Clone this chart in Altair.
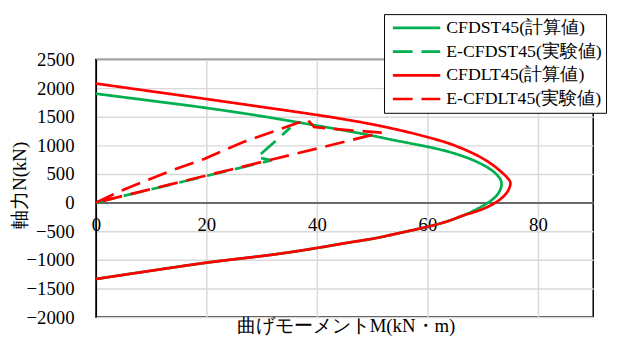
import altair as alt
import pandas as pd

# ---- data ----
names = ["CFDST45(計算値)", "E-CFDST45(実験値)", "CFDLT45(計算値)", "E-CFDLT45(実験値)"]
colors = ["#00B050", "#00B050", "#FF0000", "#FF0000"]

# shared tension branch (both calc curves)
neg_M = [66.6, 63.5, 60.0, 55.0, 50.5, 45.0, 39.8, 32.7, 20.0, 10.0, 0.0]
neg_N = [-220, -330, -422, -530, -623, -710, -796, -900, -1050, -1190, -1335]

green_calc_M = [0.0, 10.0, 20.0, 30.0, 40.0, 45.0, 50.0, 54.0, 58.0, 61.5, 64.5, 67.0, 69.0, 70.6, 71.9, 72.8, 73.3, 73.4, 73.1, 72.4, 71.0, 69.0] + neg_M
green_calc_N = [1903, 1780, 1654, 1510, 1345, 1260, 1170, 1090, 1015, 945, 870, 790, 710, 630, 545, 460, 385, 300, 210, 110, 0, -110] + neg_N

red_calc_M = [0.0, 10.0, 20.0, 30.0, 40.0, 45.0, 50.0, 55.0, 60.0, 64.0, 67.0, 69.5, 71.5, 73.2, 74.4, 75.0, 74.8, 74.0, 72.3, 70.3, 68.0] + neg_M
red_calc_N = [2080, 1945, 1810, 1672, 1532, 1455, 1368, 1265, 1145, 1030, 915, 800, 680, 550, 440, 356, 250, 130, 0, -100, -180] + neg_N

green_exp_M = [0.0, 16.6, 31.8, 29.2, 35.2]
green_exp_N = [0, 386, 740, 790, 1310]

red_exp_M = [0.0, 4.7, 13.6, 19.6, 26.7, 38.3, 39.5, 44.0, 51.7, 31.5, 0.0]
red_exp_N = [0, 213, 559, 761, 1060, 1452, 1320, 1280, 1222, 744, 0]

series_data = [
    (names[0], green_calc_M, green_calc_N, "catmull-rom"),
    (names[1], green_exp_M, green_exp_N, "linear"),
    (names[2], red_calc_M, red_calc_N, "catmull-rom"),
    (names[3], red_exp_M, red_exp_N, "linear"),
]

rows = []
for name, ms, ns, _ in series_data:
    for i, (m, n) in enumerate(zip(ms, ns)):
        rows.append({"M": m, "N": n, "series": name, "order": i})
df = pd.DataFrame(rows)

FONT = "Liberation Serif"
FS = 19
LFS = 18

legend = alt.Legend(
    title=None, orient="none", legendX=292, legendY=-46,
    symbolType="M-1,0H8.6", symbolSize=100, symbolStrokeWidth=2.75,
    labelFont=FONT, labelFontSize=LFS, labelColor="black", labelLimit=400,
    labelOffset=40, strokeColor="black", fillColor="white",
    padding=5, rowPadding=6,
)

enc = dict(
    x=alt.X("M:Q", scale=alt.Scale(domain=[0, 90], nice=False, zero=False),
            axis=alt.Axis(values=[0, 20, 40, 60, 80], format="d", offset=-116, ticks=False,
                          domainColor="#404040", domainWidth=1.5,
                          labelPadding=13, labelFlush=False, labelOverlap=False,
                          grid=True, gridColor="#d9d9d9", gridWidth=1.5,
                          title="曲げモーメントM(kN・m)",
                          titleX=253, titleY=125, titleBaseline="middle", titleAlign="center")),
    y=alt.Y("N:Q", scale=alt.Scale(domain=[-2000, 2500], nice=False, zero=False),
            axis=alt.Axis(values=list(range(-2000, 2501, 500)), format="d", ticks=False,
                          domainColor="black", domainWidth=1.5,
                          labelPadding=22, labelOverlap=False, labelFlush=False,
                          grid=True, gridColor="#d9d9d9", gridWidth=1.5,
                          title="軸力N(kN)", titleAngle=-90,
                          titleX=-77, titleY=127, titleBaseline="middle", titleAlign="center")),
    color=alt.Color("series:N", scale=alt.Scale(domain=names, range=colors), legend=legend),
    strokeDash=alt.StrokeDash("series:N",
                              scale=alt.Scale(domain=names, range=[[1, 0], [20, 9], [1, 0], [20, 9]]),
                              legend=legend),
    order=alt.Order("order:Q"),
)

layers = []
for name, _, _, interp in series_data:
    layers.append(
        alt.Chart(df).transform_filter(alt.datum.series == name)
        .mark_line(strokeWidth=2.75, strokeCap="butt", interpolate=interp)
        .encode(**enc)
    )

chart = alt.layer(*layers).properties(
    width=504, height=261,
    autosize=alt.AutoSizeParams(type="none"),
    padding={"left": 89, "top": 50, "right": 16, "bottom": 20},
).configure(font=FONT).configure_view(
    stroke="black", strokeWidth=1.5
).configure_axis(
    labelFont=FONT, labelFontSize=FS, labelColor="black",
    titleFont=FONT, titleFontSize=FS, titleFontWeight="normal", titleColor="black",
).configure_legend(
    labelFont=FONT, labelFontSize=LFS, labelColor="black",
)

chart.save("out.html", embed_options={"renderer": "svg", "actions": False})
